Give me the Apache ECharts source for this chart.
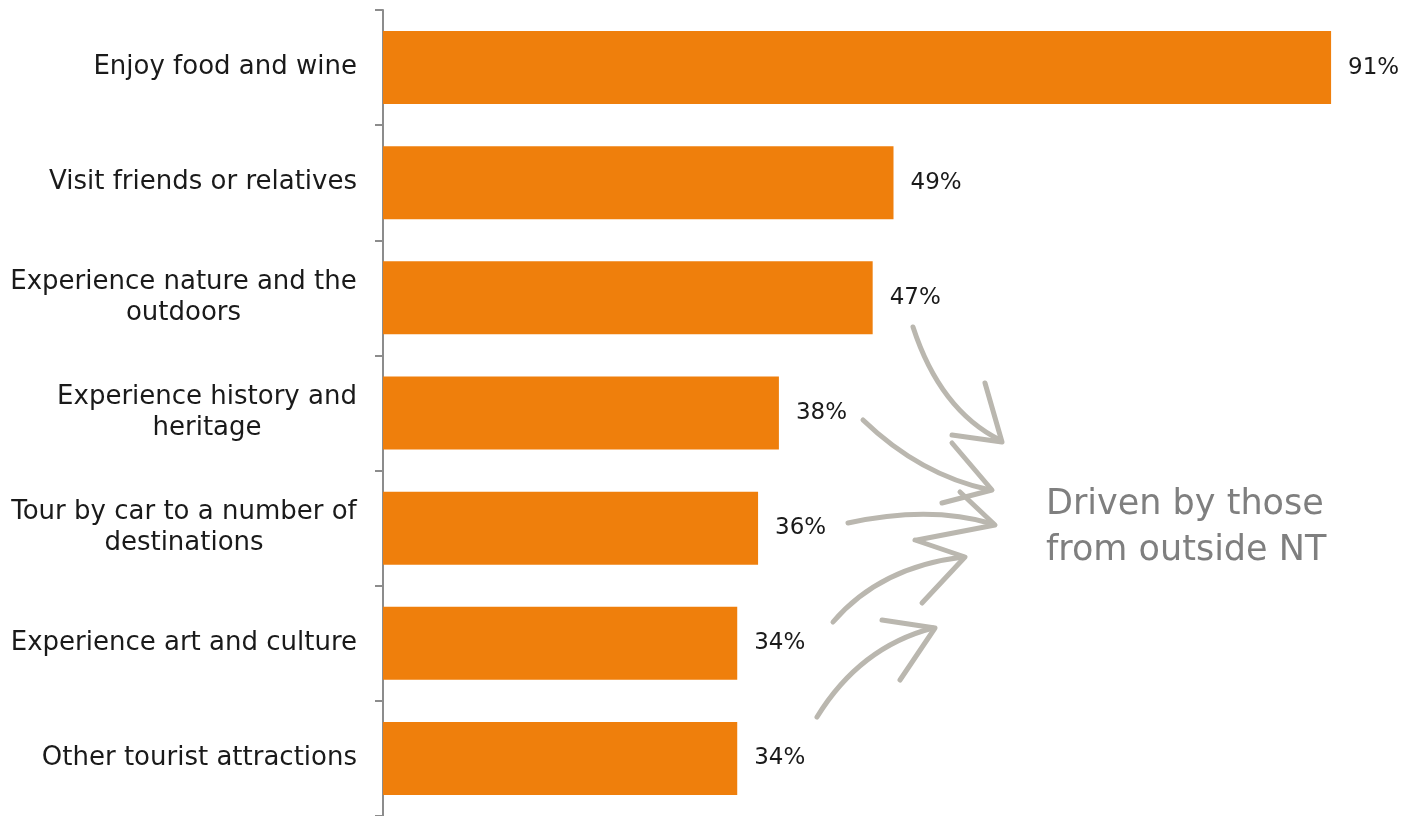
<!DOCTYPE html>
<html>
<head>
<meta charset="utf-8">
<script src="https://cdn.jsdelivr.net/npm/echarts@6/dist/echarts.min.js"></script>
<style>
  html, body { margin: 0; padding: 0; background: #ffffff; }
  #chart { width: 1402px; height: 816px; }
</style>
</head>
<body>
<div id="chart"></div>
<script>
// Reasons for visiting (share of visitors, %)
const categories = [
  'Enjoy food and wine',
  'Visit friends or relatives',
  'Experience nature and the\noutdoors',
  'Experience history and\nheritage',
  'Tour by car to a number of\ndestinations',
  'Experience art and culture',
  'Other tourist attractions'
];
const values = [91, 49, 47, 38, 36, 34, 34];
const noteLines = ['Driven by those', 'from outside NT'];

const LABEL_FONT = '"DejaVu Sans", sans-serif';
const LABEL_SIZE = 26;

// Multi-line category labels: block is right-aligned against the axis,
// each line centred within the block's widest line.
const measureCtx = document.createElement('canvas').getContext('2d');
measureCtx.font = LABEL_SIZE + 'px ' + LABEL_FONT;
const rich = {};
categories.forEach((c, i) => {
  const lines = c.split('\n');
  const w = Math.max(...lines.map(l => measureCtx.measureText(l).width));
  rich['c' + i] = {
    width: Math.ceil(w), align: 'center',
    fontSize: LABEL_SIZE, fontFamily: LABEL_FONT, color: '#1a1a1a', lineHeight: 31
  };
});

// Hand-drawn arrows pointing at the note: curved shaft (start, control, end)
// and a barb-tip-barb head
const arrows = [
  { shaft: [[913, 327], [940, 410], [1000, 440]], head: [[985, 383], [1002, 442], [952, 435]] },
  { shaft: [[863, 420], [920, 475], [990, 490]], head: [[952, 443], [992, 490], [942, 503]] },
  { shaft: [[848, 523], [930, 505], [993, 524]], head: [[960, 492], [995, 525], [917, 540]] },
  { shaft: [[833, 622], [880, 567], [963, 557]], head: [[915, 540], [965, 557], [922, 603]] },
  { shaft: [[817, 717], [860, 647], [933, 628]], head: [[882, 620], [935, 628], [900, 680]] }
];
const arrowStyle = { stroke: '#bab7af', lineWidth: 5, lineCap: 'round', lineJoin: 'round', fill: null };
const graphics = [];
arrows.forEach(a => {
  const [s, c, e] = a.shaft;
  graphics.push({
    type: 'bezierCurve', silent: true, style: arrowStyle,
    shape: { x1: s[0], y1: s[1], cpx1: c[0], cpy1: c[1], x2: e[0], y2: e[1] }
  });
  graphics.push({ type: 'polyline', shape: { points: a.head }, style: arrowStyle, silent: true });
});
graphics.push({
  type: 'text', left: 1046, top: 482, silent: true,
  style: {
    text: noteLines.join('\n'), fill: '#7f7f7f',
    font: '35px "DejaVu Sans", sans-serif', lineHeight: 46
  }
});

const chart = echarts.init(document.getElementById('chart'), null, { renderer: 'canvas' });
chart.setOption({
  animation: false,
  backgroundColor: '#ffffff',
  grid: { left: 383, top: 10, width: 1010.6, height: 808, containLabel: false },
  xAxis: { type: 'value', min: 0, max: 97, show: false },
  yAxis: {
    type: 'category',
    inverse: true,
    data: categories,
    axisLine: { show: true, lineStyle: { color: '#8c8c8c', width: 2 } },
    axisTick: { show: true, length: 8, alignWithLabel: false, lineStyle: { color: '#8c8c8c', width: 2 } },
    axisLabel: {
      margin: 26,
      fontSize: LABEL_SIZE,
      fontFamily: LABEL_FONT,
      color: '#1a1a1a',
      lineHeight: 31,
      formatter: (value, index) => {
        if (value.indexOf('\n') < 0) return value;
        return value.split('\n').map(l => '{c' + index + '|' + l + '}').join('\n');
      },
      rich: rich
    },
    splitLine: { show: false }
  },
  series: [{
    type: 'bar',
    data: values,
    barWidth: 73,
    itemStyle: { color: '#ef7f0c' },
    label: {
      show: true, position: 'right', distance: 17,
      formatter: p => p.value + '%',
      fontSize: 23, fontFamily: LABEL_FONT, color: '#1a1a1a'
    }
  }],
  graphic: graphics
});
</script>
</body>
</html>
